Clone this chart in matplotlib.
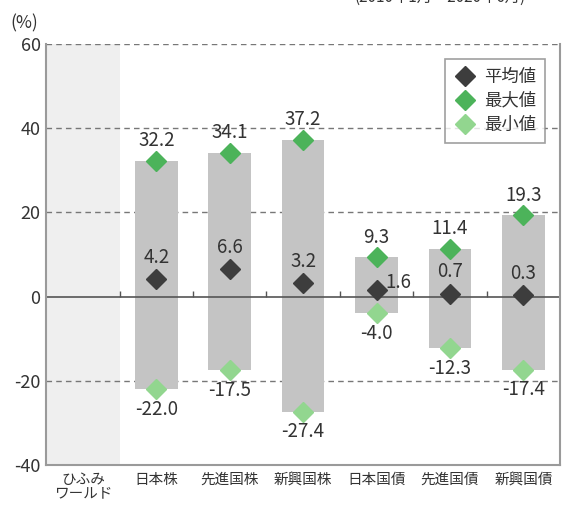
import matplotlib.pyplot as plt
import numpy as np

plt.rcParams['font.family'] = ['Noto Sans CJK JP', 'DejaVu Sans']

# データ
categories = ['ひふみ\nワールド', '日本株', '先進国株', '新興国株', '日本国債', '先進国債', '新興国債']
mean_vals = [None, 4.2, 6.6, 3.2, 1.6, 0.7, 0.3]
max_vals = [None, 32.2, 34.1, 37.2, 9.3, 11.4, 19.3]
min_vals = [None, -22.0, -17.5, -27.4, -4.0, -12.3, -17.4]
yticks = [60, 40, 20, 0, -20, -40]

c_bar = '#c4c4c4'
c_mean = '#3d3d3d'
c_max = '#4cb35a'
c_min = '#92d68f'
c_text = '#333333'

fig = plt.figure(figsize=(5.63, 5.13), dpi=100)
ax = fig.add_axes([0.082, 0.094, 0.913, 0.820])

x = np.arange(len(categories))
ax.set_xlim(-0.5, len(categories) - 0.5)
ax.set_ylim(-40, 60)

# ひふみワールドの背景
ax.axvspan(-0.5, 0.5, color='#efefef', lw=0, zorder=0)

# グリッド(破線)
for y in [60, 40, 20, -20]:
    ax.axhline(y, color='#777777', lw=1, ls=(0, (4, 3)), zorder=1)
ax.axhline(0, color='#555555', lw=1.2, zorder=2)
ax.vlines(x[:-1] + 0.5, 0, 1.4, color='#555555', lw=1, zorder=2)

idx = [i for i in x if mean_vals[i] is not None]
lo = np.array([min_vals[i] for i in idx])
hi = np.array([max_vals[i] for i in idx])
ax.bar(idx, hi - lo, bottom=lo, width=0.58, color=c_bar, zorder=1.5)

ax.plot(idx, [mean_vals[i] for i in idx], 'D', color=c_mean, ms=10.5, ls='none', zorder=3, label='平均値')
ax.plot(idx, hi, 'D', color=c_max, ms=10.5, ls='none', zorder=3, label='最大値')
ax.plot(idx, lo, 'D', color=c_min, ms=10.5, ls='none', zorder=3, label='最小値')

# ラベル
fs = 13.5
for i in idx:
    ax.annotate(f'{max_vals[i]:.1f}', (i, max_vals[i]), xytext=(0, 7), textcoords='offset points',
                ha='center', va='bottom', fontsize=fs, color=c_text)
    ax.annotate(f'{min_vals[i]:.1f}', (i, min_vals[i]), xytext=(0, -7), textcoords='offset points',
                ha='center', va='top', fontsize=fs, color=c_text)
    if i == 4:
        ax.annotate(f'{mean_vals[i]:.1f}', (i, mean_vals[i]), xytext=(6, -2), textcoords='offset points',
                    ha='left', va='bottom', fontsize=fs, color=c_text)
    else:
        ax.annotate(f'{mean_vals[i]:.1f}', (i, mean_vals[i]), xytext=(0, 8), textcoords='offset points',
                    ha='center', va='bottom', fontsize=fs, color=c_text)

ax.set_yticks(yticks)
ax.set_yticklabels([str(v) for v in yticks], fontsize=13, color=c_text)
ax.set_xticks(x)
ax.set_xticklabels(categories, fontsize=10.5, color=c_text, linespacing=0.95)
ax.tick_params(axis='both', length=0, pad=6)
ax.tick_params(axis='y', pad=4)

ax.spines['top'].set_visible(False)
for s in ['left', 'right', 'bottom']:
    ax.spines[s].set_color('#9a9a9a')
    ax.spines[s].set_linewidth(1.5)

leg = ax.legend(loc='upper right', bbox_to_anchor=(0.988, 0.985), fontsize=12.5, frameon=True,
                fancybox=False, edgecolor='#888888', handletextpad=0.4, borderpad=0.5,
                labelspacing=0.35, handlelength=1.4)
leg.get_frame().set_linewidth(1.2)
for t in leg.get_texts():
    t.set_color(c_text)

fig.text(0.018, 0.955, '(%)', fontsize=12.5, color=c_text, ha='left', va='center')
fig.text(0.63, 1.005, '(2010年1月～2020年6月)', fontsize=11, color=c_text, ha='left', va='center')

fig.savefig('out.png', dpi=100)
